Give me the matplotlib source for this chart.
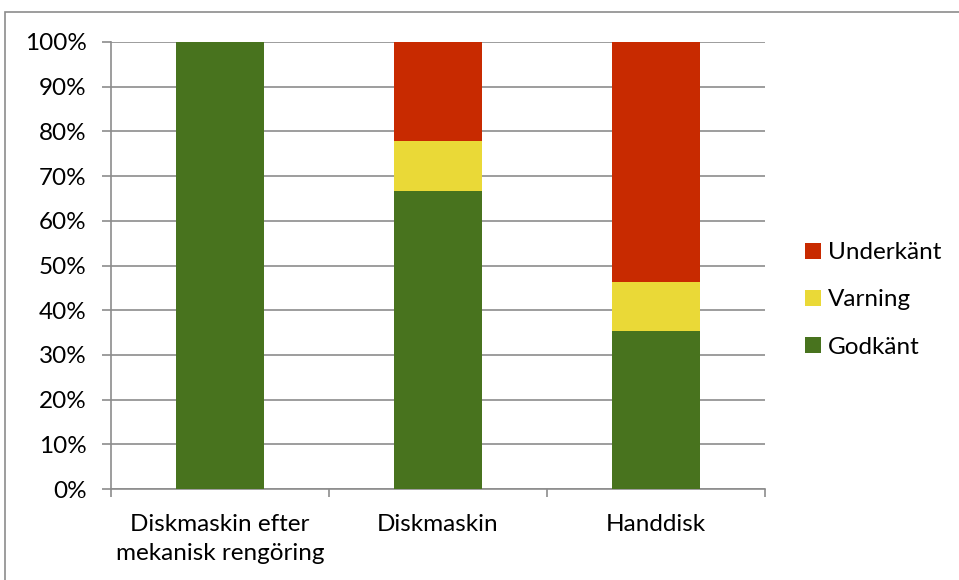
import matplotlib
matplotlib.use("Agg")
import matplotlib.pyplot as plt
from matplotlib.patches import Rectangle, Patch
from matplotlib.ticker import PercentFormatter, FixedLocator
import numpy as np

categories = ["Diskmaskin efter\nmekanisk rengöring", "Diskmaskin", "Handdisk"]
godkant = [100.0, 66.7, 35.3]
varning = [0.0, 11.1, 11.1]
underkant = [0.0, 22.2, 53.6]
series_names = ["Godkänt", "Varning", "Underkänt"]
colors = ["#48731E", "#EAD937", "#C82A00"]

plt.rcParams["font.family"] = ["Lato", "DejaVu Sans"]
axis_grey = "#8C8C8C"

fig = plt.figure(figsize=(9.59, 5.8), dpi=100)
fig.patches.append(Rectangle((5 / 959, -0.1), 1.2, (580 - 12) / 580 + 0.1,
                             transform=fig.transFigure, fill=False,
                             edgecolor=axis_grey, linewidth=1.2))
ax = fig.add_axes([111 / 959, 91 / 580, (765 - 111) / 959, (489 - 42) / 580])

x = np.arange(len(categories))
bottom = np.zeros(len(categories))
for vals, name, c in zip([godkant, varning, underkant], series_names, colors):
    ax.bar(x, vals, width=0.4, bottom=bottom, color=c, label=name, zorder=3)
    bottom += np.array(vals)

ax.set_xlim(-0.5, len(categories) - 0.5)
ax.set_ylim(0, 100)
ax.yaxis.set_major_locator(FixedLocator(np.arange(0, 101, 10)))
ax.yaxis.set_major_formatter(PercentFormatter(decimals=0))
ax.grid(axis="y", color=axis_grey, linewidth=1.2, zorder=0)
ax.set_axisbelow(True)

ax.set_xticks(x)
ax.set_xticklabels(categories, fontsize=17.5, linespacing=1.5)
ax.xaxis.set_minor_locator(FixedLocator(np.arange(-0.5, len(categories), 1.0)))
ax.tick_params(axis="x", which="major", length=0, pad=18)
ax.tick_params(axis="x", which="minor", length=6, color=axis_grey, width=1.2)
ax.tick_params(axis="y", length=6.5, color=axis_grey, width=1.2, labelsize=17.5, pad=11)

for s in ["top", "right"]:
    ax.spines[s].set_visible(False)
for s in ["left", "bottom"]:
    ax.spines[s].set_color(axis_grey)
    ax.spines[s].set_linewidth(1.2)

handles = [Patch(facecolor=c, label=n) for n, c in zip(series_names, colors)]
fig.legend(handles[::-1], series_names[::-1], loc="center left",
           bbox_to_anchor=(783 / 959, 1 - 300 / 580), frameon=False,
           fontsize=17.5, handlelength=0.66, handleheight=0.66,
           handletextpad=0.3, labelspacing=1.08)

fig.savefig("out.png", dpi=100)
